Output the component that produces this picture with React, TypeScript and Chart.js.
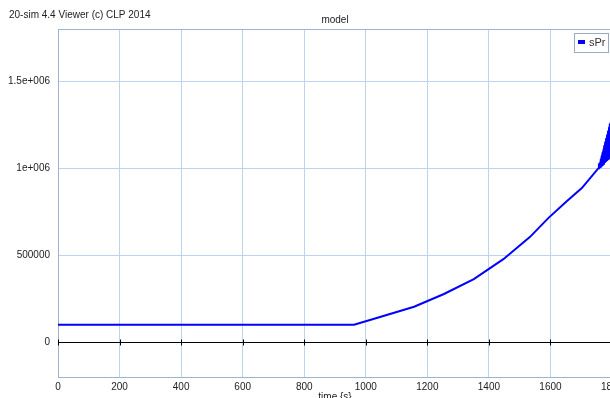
import React, { useEffect, useRef } from "react";
import { Chart, registerables } from "chart.js";

Chart.register(...registerables);

const FONT = "'Liberation Sans', Arial, sans-serif";

const seriesName = "sPr";
const chartTitle = "model";
const headerText = "20-sim 4.4 Viewer (c) CLP 2014";
const xAxisLabel = "time {s}";

const timeValues: number[] = [
  0, 962, 1049, 1157, 1254, 1351, 1447, 1533, 1593, 1652, 1702, 1756,
  1757.5, 1759, 1760.5, 1762, 1763.5, 1765, 1766.5, 1768, 1769.5, 1771,
  1772.5, 1774, 1775.5, 1777, 1778.5, 1780, 1781.5, 1783, 1784.5, 1786,
  1787.5, 1789, 1790.5, 1792, 1793.5, 1795, 1796.5, 1798, 1799.5,
];
const sPrValues: number[] = [
  100000, 100000, 146000, 204000, 277000, 363000, 477000, 604000, 713000, 809000, 886000, 1000000,
  1010000, 1005000, 1031000, 1009000, 1051000, 1014000, 1072000, 1019000, 1092000, 1024000,
  1113000, 1028000, 1133000, 1033000, 1153000, 1038000, 1174000, 1042000, 1194000, 1047000,
  1215000, 1052000, 1235000, 1056000, 1256000, 1061000, 1276000, 1066000, 1297000,
];

// envelope of the oscillating tail (upper and lower edges of the blue wedge)
const tailTimes: number[] = [1756, 1800];
const tailUpper: number[] = [1000000, 1300000];
const tailLower: number[] = [1000000, 1066000];

const yTickValues: number[] = [0, 500000, 1000000, 1500000];
const yTickLabels: string[] = ["0", "500000", "1e+006", "1.5e+006"];

const GRID = "#bcd5ef";
const FRAME = "#9db3cf";

const decorPlugin = {
  id: "decor",
  beforeDatasetsDraw(chart: any) {
    const { ctx, chartArea, scales } = chart;
    const { left, right, top, bottom } = chartArea;
    ctx.save();
    ctx.strokeStyle = FRAME;
    ctx.lineWidth = 1;
    ctx.strokeRect(left + 0.5, top + 0.5, right - left, bottom - top);
    const y0 = Math.round(scales.y.getPixelForValue(0)) + 0.5;
    ctx.strokeStyle = "#000";
    ctx.beginPath();
    ctx.moveTo(left, y0);
    ctx.lineTo(right, y0);
    ctx.stroke();
    scales.x.ticks.forEach((t: any) => {
      const x = Math.round(scales.x.getPixelForValue(t.value)) + 0.5;
      ctx.beginPath();
      ctx.moveTo(x, y0 - 3);
      ctx.lineTo(x, y0 + 3);
      ctx.stroke();
    });
    ctx.restore();
  },
  afterDraw(chart: any) {
    const { ctx, chartArea } = chart;
    const { left, right } = chartArea;
    ctx.save();
    ctx.fillStyle = "#222";
    ctx.font = `10px ${FONT}`;
    ctx.textBaseline = "middle";
    ctx.textAlign = "left";
    ctx.fillText(headerText, 9, 15);
    ctx.textAlign = "center";
    ctx.fillText(chartTitle, (left + right) / 2, 20);
    ctx.fillText(xAxisLabel, (left + right) / 2, 397);
    const lx = 574, ly = 33, lw = 34, lh = 19;
    ctx.fillStyle = "#fff";
    ctx.fillRect(lx, ly, lw, lh);
    ctx.strokeStyle = "#9aaabf";
    ctx.lineWidth = 1;
    ctx.strokeRect(lx + 0.5, ly + 0.5, lw, lh);
    ctx.fillStyle = "#0000ff";
    ctx.fillRect(lx + 4, ly + 7, 7, 4);
    ctx.fillStyle = "#333";
    ctx.textAlign = "left";
    ctx.font = `11px ${FONT}`;
    ctx.fillText(seriesName, lx + 15, ly + 10);
    ctx.restore();
  },
};

export default function App() {
  const ref = useRef<HTMLCanvasElement | null>(null);

  useEffect(() => {
    if (!ref.current) return;
    const data = timeValues.map((t, i) => ({ x: t, y: sPrValues[i] }));
    const lower = tailTimes.map((t, i) => ({ x: t, y: tailLower[i] }));
    const upper = tailTimes.map((t, i) => ({ x: t, y: tailUpper[i] }));
    const chart = new Chart(ref.current, {
      type: "line",
      data: {
        datasets: [
          {
            label: seriesName + " low",
            data: lower,
            borderColor: "#0000ff",
            borderWidth: 1,
            pointRadius: 0,
            fill: false,
          },
          {
            label: seriesName + " high",
            data: upper,
            borderColor: "#0000ff",
            backgroundColor: "#0000ff",
            borderWidth: 1,
            pointRadius: 0,
            fill: "-1",
          },
          {
            label: seriesName,
            data,
            borderColor: "#0000ff",
            backgroundColor: "#0000ff",
            borderWidth: 2,
            pointRadius: 0,
            tension: 0,
            fill: false,
          },
        ],
      },
      options: {
        animation: false,
        responsive: false,
        maintainAspectRatio: false,
        layout: { padding: { left: 0, top: 29, right: 68, bottom: 0 } },
        plugins: {
          legend: { display: false },
          tooltip: { enabled: false },
          title: { display: false },
        },
        scales: {
          x: {
            type: "linear",
            min: 0,
            max: 1800,
            border: { display: false },
            grid: { color: GRID, drawTicks: false, lineWidth: 1 },
            ticks: {
              stepSize: 200,
              padding: 4,
              color: "#222",
              font: { family: FONT, size: 10 },
              maxRotation: 0,
              autoSkip: false,
              callback: (v: any) => String(v),
            },
            afterFit(scale: any) {
              scale.height = 21;
            },
          },
          y: {
            type: "linear",
            min: -200000,
            max: 1800000,
            border: { display: false },
            grid: {
              color: (c: any) => (c.tick && c.tick.value === 0 ? "rgba(0,0,0,0)" : GRID),
              drawTicks: false,
            },
            afterBuildTicks(scale: any) {
              scale.ticks = yTickValues.map((v) => ({ value: v }));
            },
            ticks: {
              padding: 8,
              color: "#222",
              font: { family: FONT, size: 10 },
              callback: (v: any) => {
                const i = yTickValues.indexOf(Number(v));
                return i >= 0 ? yTickLabels[i] : "";
              },
            },
            afterFit(scale: any) {
              scale.width = 58;
            },
          },
        },
      },
      plugins: [decorPlugin],
    });
    return () => chart.destroy();
  }, []);

  return (
    <div
      style={{
        position: "fixed",
        left: 0,
        top: 0,
        width: 610,
        height: 398,
        overflow: "hidden",
        background: "#fff",
      }}
    >
      <canvas ref={ref} width={680} height={398} style={{ display: "block", width: 680, height: 398 }} />
    </div>
  );
}
